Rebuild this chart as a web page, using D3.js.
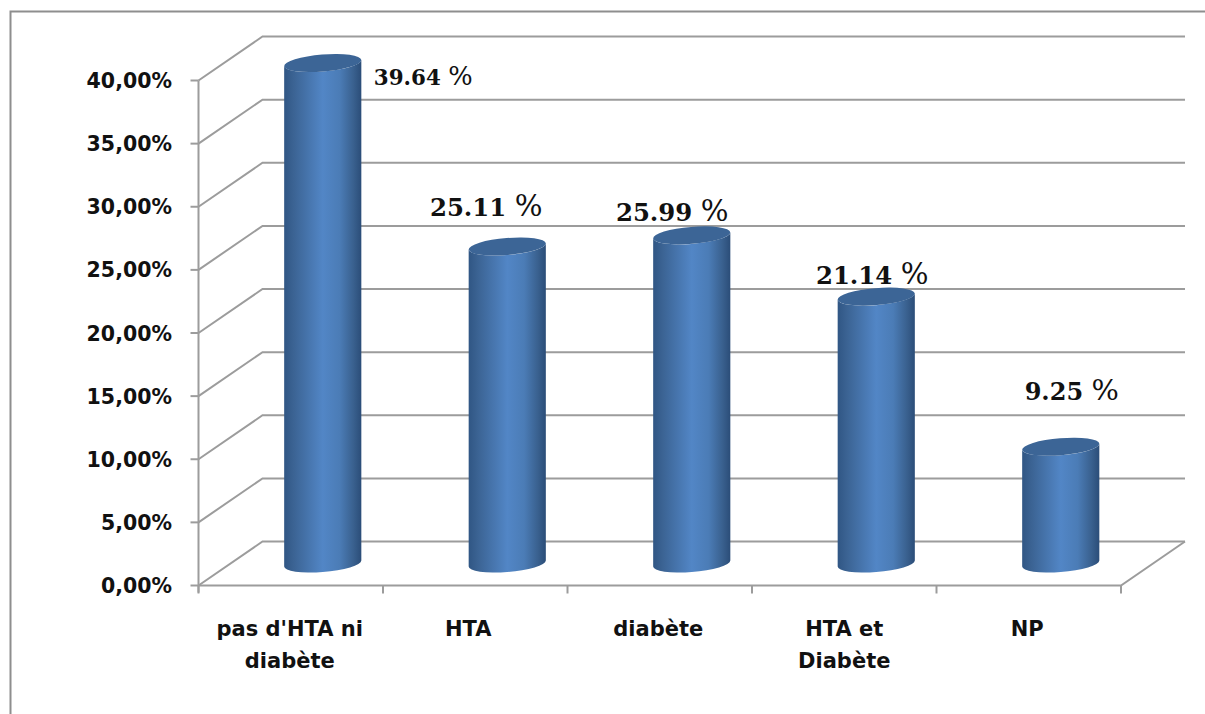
<!DOCTYPE html>
<html>
<head>
<meta charset="utf-8">
<script src="https://cdn.jsdelivr.net/npm/d3@7"></script>
<style>
html,body{margin:0;padding:0;background:#fff;}
svg{display:block;}
.tick-label{font-family:"DejaVu Sans",sans-serif;font-weight:700;font-size:20.5px;fill:#111;}
.cat-label{font-family:"DejaVu Sans",sans-serif;font-weight:700;font-size:21px;fill:#111;}
.value-label{font-family:"DejaVu Serif",serif;font-weight:700;fill:#111;}
.value-label .pct{font-weight:400;}
</style>
</head>
<body>
<svg id="chart" width="1205" height="714"></svg>
<script>
// Share of patients per group, in percent
const categories = [["pas d'HTA ni","diabète"],["HTA"],["diabète"],["HTA et","Diabète"],["NP"]];
const values = [39.64, 25.11, 25.99, 21.14, 9.25];
const valueLabels = ["39.64","25.11","25.99","21.14","9.25"];
const yTicks = [0,5,10,15,20,25,30,35,40];
const labelShiftX = [100.5,-21,-19.5,-4,11];
const labelShiftY = [21.5,-30,-14,-13,-47];
const labelFontSize = [21.4,24.4,24.4,24.4,24];
const categoryShiftX = [-1,-7,-1.5,0,-1.5];

const svg = d3.select("#chart");
const frontLeft = 198.5, frontRight = 1121, floorY = 585.5, topY = 80.5;
const depthX = 64, depthY = -44;
const gridColor = "#9c9c9c";

const x = d3.scaleBand().domain(d3.range(categories.length)).range([frontLeft, frontRight]);
const y = d3.scaleLinear().domain([0,40]).range([floorY, topY]);
const fmt = v => v.toFixed(2).replace(".", ",") + "%";

// Horizontal shading for the cylinder walls
const defs = svg.append("defs");
const grad = defs.append("linearGradient").attr("id","wall").attr("x1",0).attr("x2",1).attr("y1",0).attr("y2",0);
[[0,"#305684"],[0.12,"#3b6393"],[0.5,"#5286c6"],[0.72,"#4b7cb6"],[0.9,"#39608e"],[1,"#2b4d78"]]
  .forEach(([o,c]) => grad.append("stop").attr("offset",o).attr("stop-color",c));

// Outer chart frame
svg.append("path").attr("d","M10.5,714V11.5H1205").attr("fill","none").attr("stroke","#8e8e8e").attr("stroke-width",2);

const grid = svg.append("g").attr("fill","none").attr("stroke",gridColor).attr("stroke-width",2);
// Side wall diagonals and back wall lines
yTicks.forEach(t => {
  const yy = y(t);
  grid.append("path").attr("d",`M${frontLeft},${yy}L${frontLeft+depthX},${yy+depthY}H${frontRight+depthX}`);
  grid.append("line").attr("x1",frontLeft-8).attr("x2",frontLeft).attr("y1",yy).attr("y2",yy);
});
// Value axis and floor
grid.append("line").attr("x1",frontLeft).attr("x2",frontLeft).attr("y1",y(40)).attr("y2",floorY+7);
grid.append("path").attr("d",`M${frontLeft},${floorY}H${frontRight}L${frontRight+depthX},${floorY+depthY}`);
d3.range(categories.length+1).forEach(i => {
  const xx = frontLeft + i*x.bandwidth();
  grid.append("line").attr("x1",xx).attr("x2",xx).attr("y1",floorY).attr("y2",floorY+8);
});

// Value axis labels
svg.append("g").selectAll("text").data(yTicks).join("text")
  .attr("class","tick-label").attr("text-anchor","end")
  .attr("x",172).attr("y",d=>y(d)+7.5).text(d=>fmt(d));

// Category labels
categories.forEach((lines,i) => {
  const t = svg.append("text").attr("class","cat-label").attr("text-anchor","middle");
  lines.forEach((s,j) => t.append("tspan")
    .attr("x",x(i)+x.bandwidth()/2+categoryShiftX[i]).attr("y",635.5+j*32.5).text(s));
});

// Cylinders stand halfway into the floor depth
const a = 38.7, b = 8.5, tilt = -4.65;
const rad = -tilt*Math.PI/180;
const halfW = Math.hypot(a*Math.cos(rad), b*Math.sin(rad));
const tipY = (a*a-b*b)*Math.sin(rad)*Math.cos(rad)/halfW;
const bars = svg.append("g");
values.forEach((v,i) => {
  const cx = x(i)+x.bandwidth()/2+depthX/2;
  const by = y(0)+depthY/2, ty = y(v)+depthY/2;
  const g = bars.append("g");
  g.append("path").attr("fill","url(#wall)").attr("d",
    `M${cx-halfW},${ty+tipY}L${cx-halfW},${by+tipY}`+
    `A${a},${b},${tilt},0,0,${cx+halfW},${by-tipY}`+
    `L${cx+halfW},${ty-tipY}`+
    `A${a},${b},${tilt},0,1,${cx-halfW},${ty+tipY}Z`);
  g.append("ellipse").attr("cx",0).attr("cy",0).attr("rx",a).attr("ry",b)
    .attr("transform",`translate(${cx},${ty}) rotate(${tilt})`).attr("fill","#3c6596");
});

// Value labels beside or above each cylinder
values.forEach((v,i) => {
  const cx = x(i)+x.bandwidth()/2+depthX/2;
  const ty = y(v)+depthY/2;
  const t = svg.append("text").attr("class","value-label").attr("text-anchor","middle")
    .attr("font-size",labelFontSize[i])
    .attr("x",cx+labelShiftX[i]).attr("y",ty+labelShiftY[i]);
  t.append("tspan").text(valueLabels[i]+" ");
  t.append("tspan").attr("class","pct").attr("font-size",labelFontSize[i]*1.2).text("%");
});
</script>
</body>
</html>
